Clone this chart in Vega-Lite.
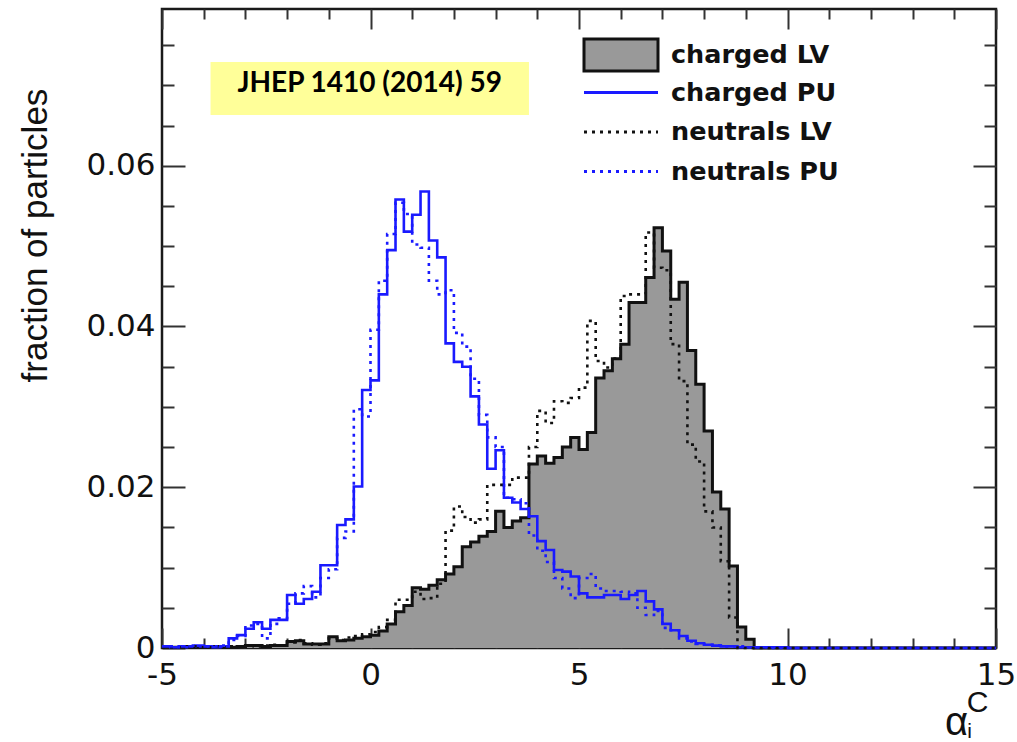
{
  "$schema": "https://vega.github.io/schema/vega-lite/v6.json",
  "width": 834,
  "height": 639,
  "autosize": {"type": "none"},
  "padding": {"left": 162, "top": 9, "right": 21, "bottom": 94},
  "background": "white",
  "config": {
    "view": {"stroke": "#1a1a1a", "strokeWidth": 2.5},
    "axis": {"domain": false, "grid": false}
  },
  "data": {
    "values": [
      {"x": -5.0, "cLV": 0.0001, "cPU": 0.0002, "nLV": 0.0001, "nPU": 0.0002},
      {"x": -4.8, "cLV": 0.0001, "cPU": 0.0001, "nLV": 0.0001, "nPU": 0.0002},
      {"x": -4.6, "cLV": 0.0001, "cPU": 0.0002, "nLV": 0.0001, "nPU": 0.0001},
      {"x": -4.4, "cLV": 0.0001, "cPU": 0.0002, "nLV": 0.0002, "nPU": 0.0003},
      {"x": -4.2, "cLV": 0.0001, "cPU": 0.0003, "nLV": 0.0001, "nPU": 0.0002},
      {"x": -4.0, "cLV": 0.0001, "cPU": 0.0002, "nLV": 0.0001, "nPU": 0.0002},
      {"x": -3.8, "cLV": 0.0002, "cPU": 0.0001, "nLV": 0.0002, "nPU": 0.0002},
      {"x": -3.6, "cLV": 0.0001, "cPU": 0.0002, "nLV": 0.0001, "nPU": 0.0003},
      {"x": -3.4, "cLV": 0.0001, "cPU": 0.0012, "nLV": 0.0002, "nPU": 0.0010},
      {"x": -3.2, "cLV": 0.0002, "cPU": 0.0016, "nLV": 0.0001, "nPU": 0.0015},
      {"x": -3.0, "cLV": 0.0003, "cPU": 0.0024, "nLV": 0.0003, "nPU": 0.0028},
      {"x": -2.8, "cLV": 0.0003, "cPU": 0.0032, "nLV": 0.0002, "nPU": 0.0030},
      {"x": -2.6, "cLV": 0.0002, "cPU": 0.0024, "nLV": 0.0003, "nPU": 0.0012},
      {"x": -2.4, "cLV": 0.0003, "cPU": 0.0035, "nLV": 0.0004, "nPU": 0.0030},
      {"x": -2.2, "cLV": 0.0003, "cPU": 0.0035, "nLV": 0.0003, "nPU": 0.0037},
      {"x": -2.0, "cLV": 0.0008, "cPU": 0.0066, "nLV": 0.0007, "nPU": 0.0055},
      {"x": -1.8, "cLV": 0.0009, "cPU": 0.0055, "nLV": 0.0010, "nPU": 0.0068},
      {"x": -1.6, "cLV": 0.0005, "cPU": 0.0061, "nLV": 0.0006, "nPU": 0.0077},
      {"x": -1.4, "cLV": 0.0005, "cPU": 0.0070, "nLV": 0.0004, "nPU": 0.0063},
      {"x": -1.2, "cLV": 0.0005, "cPU": 0.0103, "nLV": 0.0006, "nPU": 0.0087},
      {"x": -1.0, "cLV": 0.0014, "cPU": 0.0103, "nLV": 0.0012, "nPU": 0.0098},
      {"x": -0.8, "cLV": 0.0009, "cPU": 0.0153, "nLV": 0.0010, "nPU": 0.0137},
      {"x": -0.6, "cLV": 0.0010, "cPU": 0.0160, "nLV": 0.0013, "nPU": 0.0145},
      {"x": -0.4, "cLV": 0.0012, "cPU": 0.0201, "nLV": 0.0015, "nPU": 0.0297},
      {"x": -0.2, "cLV": 0.0014, "cPU": 0.0321, "nLV": 0.0017, "nPU": 0.0288},
      {"x": 0.0, "cLV": 0.0016, "cPU": 0.0333, "nLV": 0.0020, "nPU": 0.0396},
      {"x": 0.2, "cLV": 0.0021, "cPU": 0.0440, "nLV": 0.0026, "nPU": 0.0457},
      {"x": 0.4, "cLV": 0.0030, "cPU": 0.0495, "nLV": 0.0035, "nPU": 0.0515},
      {"x": 0.6, "cLV": 0.0045, "cPU": 0.0558, "nLV": 0.0060, "nPU": 0.0554},
      {"x": 0.8, "cLV": 0.0053, "cPU": 0.0518, "nLV": 0.0060, "nPU": 0.0540},
      {"x": 1.0, "cLV": 0.0075, "cPU": 0.0539, "nLV": 0.0070, "nPU": 0.0502},
      {"x": 1.2, "cLV": 0.0073, "cPU": 0.0568, "nLV": 0.0061, "nPU": 0.0498},
      {"x": 1.4, "cLV": 0.0078, "cPU": 0.0507, "nLV": 0.0062, "nPU": 0.0457},
      {"x": 1.6, "cLV": 0.0085, "cPU": 0.0486, "nLV": 0.0080, "nPU": 0.0440},
      {"x": 1.8, "cLV": 0.0092, "cPU": 0.0379, "nLV": 0.0146, "nPU": 0.0445},
      {"x": 2.0, "cLV": 0.0101, "cPU": 0.0356, "nLV": 0.0176, "nPU": 0.0392},
      {"x": 2.2, "cLV": 0.0126, "cPU": 0.0350, "nLV": 0.0163, "nPU": 0.0375},
      {"x": 2.4, "cLV": 0.0132, "cPU": 0.0313, "nLV": 0.0156, "nPU": 0.0335},
      {"x": 2.6, "cLV": 0.0139, "cPU": 0.0278, "nLV": 0.0160, "nPU": 0.0290},
      {"x": 2.8, "cLV": 0.0145, "cPU": 0.0223, "nLV": 0.0203, "nPU": 0.0262},
      {"x": 3.0, "cLV": 0.0170, "cPU": 0.0246, "nLV": 0.0203, "nPU": 0.0250},
      {"x": 3.2, "cLV": 0.0150, "cPU": 0.0187, "nLV": 0.0203, "nPU": 0.0187},
      {"x": 3.4, "cLV": 0.0158, "cPU": 0.0181, "nLV": 0.0212, "nPU": 0.0185},
      {"x": 3.6, "cLV": 0.0162, "cPU": 0.0173, "nLV": 0.0212, "nPU": 0.0180},
      {"x": 3.8, "cLV": 0.0229, "cPU": 0.0164, "nLV": 0.0250, "nPU": 0.0140},
      {"x": 4.0, "cLV": 0.0239, "cPU": 0.0133, "nLV": 0.0295, "nPU": 0.0121},
      {"x": 4.2, "cLV": 0.0230, "cPU": 0.0122, "nLV": 0.0280, "nPU": 0.0107},
      {"x": 4.4, "cLV": 0.0237, "cPU": 0.0097, "nLV": 0.0307, "nPU": 0.0087},
      {"x": 4.6, "cLV": 0.0250, "cPU": 0.0095, "nLV": 0.0305, "nPU": 0.0074},
      {"x": 4.8, "cLV": 0.0262, "cPU": 0.0089, "nLV": 0.0311, "nPU": 0.0062},
      {"x": 5.0, "cLV": 0.0247, "cPU": 0.0068, "nLV": 0.0324, "nPU": 0.0087},
      {"x": 5.2, "cLV": 0.0268, "cPU": 0.0063, "nLV": 0.0407, "nPU": 0.0092},
      {"x": 5.4, "cLV": 0.0336, "cPU": 0.0063, "nLV": 0.0357, "nPU": 0.0074},
      {"x": 5.6, "cLV": 0.0345, "cPU": 0.0066, "nLV": 0.0349, "nPU": 0.0071},
      {"x": 5.8, "cLV": 0.0360, "cPU": 0.0066, "nLV": 0.0360, "nPU": 0.0071},
      {"x": 6.0, "cLV": 0.0378, "cPU": 0.0061, "nLV": 0.0438, "nPU": 0.0070},
      {"x": 6.2, "cLV": 0.0430, "cPU": 0.0066, "nLV": 0.0440, "nPU": 0.0068},
      {"x": 6.4, "cLV": 0.0430, "cPU": 0.0071, "nLV": 0.0440, "nPU": 0.0050},
      {"x": 6.6, "cLV": 0.0461, "cPU": 0.0058, "nLV": 0.0517, "nPU": 0.0041},
      {"x": 6.8, "cLV": 0.0523, "cPU": 0.0048, "nLV": 0.0473, "nPU": 0.0046},
      {"x": 7.0, "cLV": 0.0494, "cPU": 0.0030, "nLV": 0.0470, "nPU": 0.0025},
      {"x": 7.2, "cLV": 0.0434, "cPU": 0.0022, "nLV": 0.0378, "nPU": 0.0022},
      {"x": 7.4, "cLV": 0.0455, "cPU": 0.0015, "nLV": 0.0332, "nPU": 0.0012},
      {"x": 7.6, "cLV": 0.0370, "cPU": 0.0009, "nLV": 0.0253, "nPU": 0.0008},
      {"x": 7.8, "cLV": 0.0328, "cPU": 0.0006, "nLV": 0.0232, "nPU": 0.0005},
      {"x": 8.0, "cLV": 0.0270, "cPU": 0.0004, "nLV": 0.0170, "nPU": 0.0004},
      {"x": 8.2, "cLV": 0.0194, "cPU": 0.0003, "nLV": 0.0150, "nPU": 0.0003},
      {"x": 8.4, "cLV": 0.0173, "cPU": 0.0002, "nLV": 0.0108, "nPU": 0.0002},
      {"x": 8.6, "cLV": 0.0102, "cPU": 0.0002, "nLV": 0.0038, "nPU": 0.0002},
      {"x": 8.8, "cLV": 0.0026, "cPU": 0.0001, "nLV": 0.0, "nPU": 0.0002},
      {"x": 9.0, "cLV": 0.0011, "cPU": 0.0001, "nLV": 0.0, "nPU": 0.0001},
      {"x": 9.2, "cLV": 0.0, "cPU": 0.0001, "nLV": 0.0, "nPU": 0.0001},
      {"x": 9.4, "cLV": 0.0, "cPU": 0.0001, "nLV": 0.0, "nPU": 0.0001},
      {"x": 9.6, "cLV": 0.0, "cPU": 0.0001, "nLV": 0.0, "nPU": 0.0},
      {"x": 10.0, "cLV": 0.0, "cPU": 0.0, "nLV": 0.0, "nPU": 0.0},
      {"x": 15.0, "cLV": 0.0, "cPU": 0.0, "nLV": 0.0, "nPU": 0.0}
    ]
  },
  "layer": [
    {
      "mark": {"type": "area", "interpolate": "step-after"},
      "encoding": {
        "x": {"field": "x", "type": "quantitative", "scale": {"domain": [-5, 15], "nice": false, "zero": false}, "axis": null},
        "y": {"field": "cLV", "type": "quantitative", "stack": null, "scale": {"domain": [0, 0.0795], "nice": false}, "axis": null},
        "fill": {
          "datum": "charged LV",
          "type": "nominal",
          "scale": {"domain": ["charged LV"], "range": ["#999999"]},
          "legend": {
            "orient": "none", "legendX": 439, "legendY": 26, "title": null, "padding": 0,
            "symbolType": "M-2,-0.86H2V0.86H-2Z", "symbolSize": 1369,
            "symbolStrokeColor": "#111111", "symbolStrokeWidth": 3, "symbolOpacity": 1,
            "labelFont": "DejaVu Sans", "labelFontSize": 25.5, "labelFontWeight": "bold",
            "labelColor": "#111111", "labelOffset": 30, "labelLimit": 400
          }
        }
      }
    },
    {
      "mark": {"type": "line", "interpolate": "step-after", "color": "#111111", "strokeWidth": 3},
      "encoding": {
        "x": {"field": "x", "type": "quantitative", "axis": null},
        "y": {"field": "cLV", "type": "quantitative", "axis": null}
      }
    },
    {
      "transform": [{"fold": ["cPU", "nLV", "nPU"], "as": ["series", "value"]}],
      "mark": {"type": "line", "interpolate": "step-after", "strokeWidth": 2.6},
      "encoding": {
        "x": {"field": "x", "type": "quantitative", "axis": null},
        "y": {"field": "value", "type": "quantitative", "axis": null},
        "stroke": {
          "field": "series",
          "type": "nominal",
          "scale": {"domain": ["cPU", "nLV", "nPU"], "range": ["#1a1aff", "#111111", "#1a1aff"]},
          "legend": {
            "orient": "none", "legendX": 439, "legendY": 63.5, "title": null, "padding": 0,
            "symbolType": "M-2,0H2", "symbolSize": 1369, "symbolStrokeWidth": 3,
            "rowPadding": 5.5,
            "labelExpr": "datum.label == 'cPU' ? 'charged PU' : datum.label == 'nLV' ? 'neutrals LV' : 'neutrals PU'",
            "labelFont": "DejaVu Sans", "labelFontSize": 25.5, "labelFontWeight": "bold",
            "labelColor": "#111111", "labelOffset": 30, "labelLimit": 400
          }
        },
        "strokeDash": {
          "field": "series",
          "type": "nominal",
          "scale": {"domain": ["cPU", "nLV", "nPU"], "range": [[1, 0], [3, 5], [3, 5]]}
        }
      }
    },
    {
      "data": {"values": [{"label": "JHEP 1410 (2014) 59"}]},
      "mark": {"type": "rect", "color": "#ffff99"},
      "encoding": {
        "x": {"datum": -3.836, "type": "quantitative", "axis": null},
        "x2": {"datum": 3.8},
        "y": {"datum": 0.0729, "type": "quantitative", "axis": null},
        "y2": {"datum": 0.0663}
      }
    },
    {
      "data": {"values": [{"label": "JHEP 1410 (2014) 59"}]},
      "mark": {"type": "text", "font": "Lato", "fontWeight": "bold", "fontSize": 28, "color": "#000000", "align": "center", "baseline": "alphabetic"},
      "encoding": {
        "x": {"datum": -0.02, "type": "quantitative", "axis": null},
        "y": {"datum": 0.0692, "type": "quantitative", "axis": null},
        "text": {"field": "label"}
      }
    },
    {
      "mark": {"type": "point", "opacity": 0},
      "encoding": {
        "x": {"field": "x", "type": "quantitative", "axis": {
          "orient": "bottom", "values": [-5, 0, 5, 10, 15], "ticks": false, "domain": false,
          "labelExpr": "'' + datum.value", "labelFont": "DejaVu Sans", "labelFontSize": 31,
          "labelColor": "#111111", "labelPadding": 12, "labelFlush": false, "labelOverlap": false,
          "title": "α", "titleFont": "Liberation Sans", "titleFontSize": 40, "titleFontWeight": "normal",
          "titleColor": "#111111", "titleX": 794, "titleY": 86, "titleAlign": "center", "titleBaseline": "alphabetic"
        }},
        "y": {"field": "cLV", "type": "quantitative", "axis": {
          "orient": "left", "values": [0, 0.02, 0.04, 0.06], "ticks": false, "domain": false,
          "labelExpr": "datum.value == 0 ? '0' : format(datum.value, '.2f')",
          "labelFont": "DejaVu Sans", "labelFontSize": 31, "labelColor": "#111111", "labelPadding": 7,
          "labelOverlap": false, "labelFlush": false,
          "title": "fraction of particles", "titleFont": "Liberation Sans", "titleFontSize": 35,
          "titleFontWeight": "normal", "titleColor": "#111111", "titleAngle": -90,
          "titleX": -116, "titleY": 226, "titleAlign": "center", "titleBaseline": "alphabetic"
        }}
      }
    },
    {
      "mark": {"type": "point", "opacity": 0},
      "encoding": {
        "x": {"field": "x", "type": "quantitative", "axis": {
          "orient": "bottom", "values": [-5, 0, 5, 10, 15], "labels": false, "domain": false,
          "ticks": true, "tickSize": -20, "tickWidth": 2, "tickColor": "#333333",
          "title": "C", "titleFont": "Liberation Sans", "titleFontSize": 30, "titleFontWeight": "normal",
          "titleColor": "#111111", "titleX": 815, "titleY": 63, "titleAlign": "center", "titleBaseline": "alphabetic"
        }},
        "y": {"field": "cLV", "type": "quantitative", "axis": {
          "orient": "left", "values": [0, 0.02, 0.04, 0.06], "labels": false, "domain": false,
          "ticks": true, "tickSize": -23, "tickWidth": 2, "tickColor": "#333333", "title": null
        }}
      }
    },
    {
      "mark": {"type": "point", "opacity": 0},
      "encoding": {
        "x": {"field": "x", "type": "quantitative", "axis": {
          "orient": "bottom", "values": [-4, -3, -2, -1, 1, 2, 3, 4, 6, 7, 8, 9, 11, 12, 13, 14],
          "labels": false, "domain": false, "ticks": true, "tickSize": -10, "tickWidth": 2, "tickColor": "#333333",
          "title": "i", "titleFont": "Liberation Sans", "titleFontSize": 21, "titleFontWeight": "normal",
          "titleColor": "#111111", "titleX": 807, "titleY": 89, "titleAlign": "center", "titleBaseline": "alphabetic"
        }},
        "y": {"field": "cLV", "type": "quantitative", "axis": {
          "orient": "left", "values": [0.005, 0.01, 0.015, 0.025, 0.03, 0.035, 0.045, 0.05, 0.055, 0.065, 0.07, 0.075],
          "labels": false, "domain": false, "ticks": true, "tickSize": -12, "tickWidth": 2, "tickColor": "#333333", "title": null
        }}
      }
    },
    {
      "mark": {"type": "point", "opacity": 0},
      "encoding": {
        "x": {"field": "x", "type": "quantitative", "axis": {
          "orient": "top", "values": [-5, 0, 5, 10, 15], "labels": false, "domain": false,
          "ticks": true, "tickSize": -20, "tickWidth": 2, "tickColor": "#333333", "title": null
        }},
        "y": {"field": "cLV", "type": "quantitative", "axis": {
          "orient": "right", "values": [0, 0.02, 0.04, 0.06], "labels": false, "domain": false,
          "ticks": true, "tickSize": -23, "tickWidth": 2, "tickColor": "#333333", "title": null
        }}
      }
    },
    {
      "mark": {"type": "point", "opacity": 0},
      "encoding": {
        "x": {"field": "x", "type": "quantitative", "axis": {
          "orient": "top", "values": [-4, -3, -2, -1, 1, 2, 3, 4, 6, 7, 8, 9, 11, 12, 13, 14],
          "labels": false, "domain": false, "ticks": true, "tickSize": -10, "tickWidth": 2, "tickColor": "#333333", "title": null
        }},
        "y": {"field": "cLV", "type": "quantitative", "axis": {
          "orient": "right", "values": [0.005, 0.01, 0.015, 0.025, 0.03, 0.035, 0.045, 0.05, 0.055, 0.065, 0.07, 0.075],
          "labels": false, "domain": false, "ticks": true, "tickSize": -12, "tickWidth": 2, "tickColor": "#333333", "title": null
        }}
      }
    }
  ],
  "resolve": {"axis": {"x": "independent", "y": "independent"}}
}
